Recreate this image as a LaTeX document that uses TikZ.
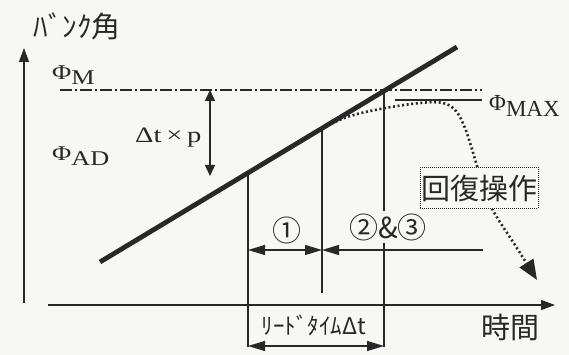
\documentclass[tikz,border=0pt]{standalone}
\usepackage{fontspec}
\newfontfamily\jpfont{Noto Sans CJK JP}
\newfontfamily\serifface{Liberation Serif}
\usetikzlibrary{arrows.meta}

\definecolor{paper}{RGB}{247,247,245}
\definecolor{ink}{RGB}{40,40,40}

\newcommand\phiwith[2][1.25]{\scalebox{#1}[1]{Φ\raisebox{-0.22em}{#2}}}

\tikzset{
    axisline/.style={line width=1.4pt, ink, -{Triangle[length=14pt,width=10pt]}},
    guideline/.style={line width=1.3pt, ink},
    dimarrow/.style={line width=1.3pt, ink,
        {Triangle[length=17pt,width=10pt]}-{Triangle[length=17pt,width=10pt]}},
    jplabel/.style={font=\jpfont\fontsize{29}{29}\selectfont, ink, inner sep=1pt},
    philabel/.style={font=\serifface\fontsize{21}{21}\selectfont, ink, inner sep=0pt,
        anchor=base west},
}

\begin{document}
\begin{tikzpicture}[x=1pt,y=-1pt,>=stealth]

    \fill[paper] (0,0) rectangle (569,355);
    \useasboundingbox (0,0) rectangle (569,355);

    \coordinate (yfoot) at (24,303);
    \coordinate (ytip) at (24,48);
    \coordinate (xfoot) at (48,305);
    \coordinate (xtip) at (555,305);

    \draw[axisline] (yfoot) -- (ytip);
    \draw[axisline] (xfoot) -- (xtip);

    \node[jplabel] (banklabel) at (77,26) {ﾊﾞﾝｸ角};
    \node[jplabel] (timelabel) at (510,327) {時間};

    \coordinate (mleft) at (60,90);
    \coordinate (mright) at (482,90);
    \draw[line width=1.2pt, ink, dash pattern=on 12pt off 3pt on 2pt off 3pt]
        (mleft) -- (mright);

    \coordinate (maxleft) at (395,100);
    \coordinate (maxright) at (482,100);
    \draw[guideline] (maxleft) -- (maxright);

    \node[philabel] (phim) at (52,80) {\phiwith{M}};
    \node[philabel] (phiad) at (52,161) {\phiwith{AD}};
    \node[philabel, font=\serifface\fontsize{23}{23}\selectfont] (phimax)
        at (489,111) {\phiwith[1]{MAX}};

    \coordinate (bankstart) at (100,262);
    \coordinate (bankend) at (457,47);
    \draw[line width=4.8pt, ink] (bankstart) -- (bankend);

    \coordinate (ptop) at (210,90);
    \coordinate (pbot) at (210,176);
    \draw[line width=1.3pt, ink,
        {Triangle[length=11pt,width=10pt]}-{Triangle[length=11pt,width=10pt]}]
        (ptop) -- (pbot);
    \node[philabel, font=\serifface\fontsize{22}{22}\selectfont] (dtp)
        at (135,143) {\scalebox{1.3}[1]{Δt\,×\,p}};

    \coordinate (hitA) at (248,173);
    \coordinate (hitB) at (322,128);
    \coordinate (hitC) at (384,90);
    \coordinate (footA) at (248,347);
    \coordinate (footB) at (322,293);
    \coordinate (footC) at (384,347);

    \draw[guideline] (hitA) -- (footA);
    \draw[guideline] (hitB) -- (footB);
    \draw[guideline] (hitC) -- (footC);

    \node[jplabel] (stepone) at (287,230) {①};
    \node[jplabel, fill=paper, inner sep=2pt] (steptwo) at (388,227) {②\&③};

    \coordinate (oneleft) at (248,250);
    \coordinate (oneright) at (322,250);
    \coordinate (twoend) at (483,250);
    \draw[dimarrow] (oneleft) -- (oneright);
    \draw[line width=1.3pt, ink, {Triangle[length=17pt,width=10pt]}-]
        (oneright) -- (twoend);

    \node[jplabel, font=\jpfont\fontsize{23}{23}\selectfont] (leadlabel)
        at (314,325) {ﾘｰﾄﾞﾀｲﾑΔt};
    \coordinate (leadleft) at (248,346);
    \coordinate (leadright) at (384,346);
    \draw[dimarrow] (leadleft) -- (leadright);

    \draw[line width=2.6pt, ink, dash pattern=on 2pt off 2.6pt,
        -{Triangle[length=20pt,width=16pt]}]
        plot[smooth, tension=0.6] coordinates {
            (323,128) (347,117) (380,109) (420,103) (443,103)
            (456,111) (465,128) (471,146) (477,166) (485,192)
            (495,214) (515,245) (537,280)};

    \node[jplabel, draw, densely dotted, line width=1pt, fill=paper,
        minimum width=118pt, minimum height=41pt] (recover)
        at (479,188) {回復操作};

\end{tikzpicture}
\end{document}
